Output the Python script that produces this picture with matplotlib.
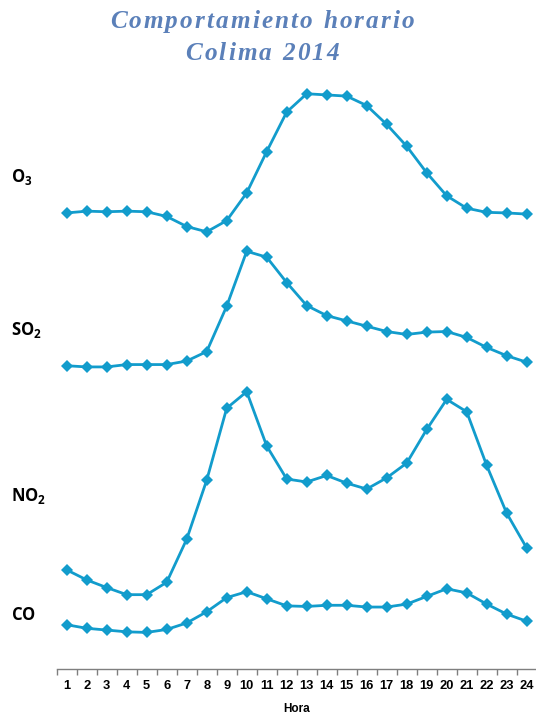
import matplotlib
matplotlib.use("Agg")
import matplotlib.pyplot as plt
from matplotlib.font_manager import FontProperties

# ================================================================
# Data (hourly profile, stacked on a common 0-100 display scale)
# ================================================================
hours = list(range(1, 25))

o3 = [77.3, 77.6, 77.5, 77.6, 77.5, 76.7, 75.0, 74.1, 76.0, 80.7, 87.7, 94.4,
      97.5, 97.3, 97.1, 95.5, 92.3, 88.6, 84.1, 80.2, 78.1, 77.4, 77.3, 77.1]
so2 = [51.4, 51.2, 51.2, 51.6, 51.6, 51.6, 52.2, 53.8, 61.5, 70.8, 69.8, 65.5,
       61.6, 59.9, 59.0, 58.1, 57.2, 56.7, 57.1, 57.2, 56.2, 54.5, 53.1, 52.0]
no2 = [16.8, 15.1, 13.8, 12.6, 12.6, 14.7, 22.0, 32.0, 44.2, 47.0, 37.8, 32.2,
       31.7, 32.8, 31.5, 30.5, 32.4, 34.9, 40.6, 45.7, 43.6, 34.5, 26.4, 20.5]
co = [7.5, 6.9, 6.6, 6.3, 6.2, 6.7, 7.8, 9.7, 12.1, 13.1, 11.9, 10.7,
      10.6, 10.8, 10.8, 10.5, 10.5, 11.0, 12.3, 13.6, 12.9, 11.0, 9.3, 8.1]

series = {"O3": o3, "SO2": so2, "NO2": no2, "CO": co}
labels = {"O3": r"$\mathbf{O_3}$", "SO2": r"$\mathbf{SO_2}$",
          "NO2": r"$\mathbf{NO_2}$", "CO": r"$\mathbf{CO}$"}
label_y_px = {"O3": 177, "SO2": 330, "NO2": 496, "CO": 615}

LINE_COLOR = "#129ccc"
TITLE_COLOR = "#5b80b9"
W, H = 536, 717

plt.rcParams["font.family"] = ["Liberation Sans", "DejaVu Sans"]
plt.rcParams["mathtext.fontset"] = "custom"
plt.rcParams["mathtext.rm"] = "Open Sans"
plt.rcParams["mathtext.bf"] = "Open Sans:bold"

fig = plt.figure(figsize=(W / 100, H / 100), dpi=100)
ax = fig.add_axes([56.7 / W, 48 / H, 480 / W, 590 / H])

for key, vals in series.items():
    ax.plot(hours, vals, color=LINE_COLOR, lw=2.0, marker="D", ms=6.5,
            markeredgewidth=0, clip_on=False)

ax.set_xlim(0.5, 24.5)
ax.set_ylim(0, 100)
for s in ("top", "right", "left"):
    ax.spines[s].set_visible(False)
ax.spines["bottom"].set_color("#7f7f7f")
ax.spines["bottom"].set_linewidth(1.0)
ax.set_yticks([])

# ticks at category boundaries, labels at centres
ax.set_xticks([h + 0.5 for h in [0] + hours])
ax.set_xticklabels([])
ax.tick_params(axis="x", which="major", length=4, width=1.0, color="#7f7f7f",
               direction="out")
ax.set_xticks(hours, minor=True)
ax.set_xticklabels([str(h) for h in hours], minor=True, fontsize=9.3,
                   fontweight="bold")
ax.tick_params(axis="x", which="minor", length=0, pad=8)

ax.set_xlabel("Hora", fontsize=8.5, fontweight="bold", labelpad=8)

# series labels on the left
for key, ypx in label_y_px.items():
    fig.text(11 / W, 1 - ypx / H, labels[key], fontsize=12, ha="left",
             va="center", color="black")

# ================================================================
# Title with letter spacing
# ================================================================
renderer = fig.canvas.get_renderer()
tprop = FontProperties(family="Liberation Serif", style="italic",
                       weight="bold", size=18.2)


def spaced_title(text, cx_px, base_px, spacing_px):
    widths = [renderer.get_text_width_height_descent(text[:i + 1], tprop, ismath=False)[0]
              for i in range(len(text))]
    starts = [0.0] + widths[:-1]
    total = widths[-1] + spacing_px * (len(text) - 1)
    x0 = cx_px - total / 2
    for i, ch in enumerate(text):
        if ch == " ":
            continue
        fig.text((x0 + starts[i] + i * spacing_px) / W, 1 - base_px / H, ch,
                 fontproperties=tprop, color=TITLE_COLOR, ha="left",
                 va="baseline")


spaced_title("Comportamiento horario", 262, 28, 2.1)
spaced_title("Colima 2014", 262, 60, 2.1)

fig.savefig("out.png", dpi=100)
